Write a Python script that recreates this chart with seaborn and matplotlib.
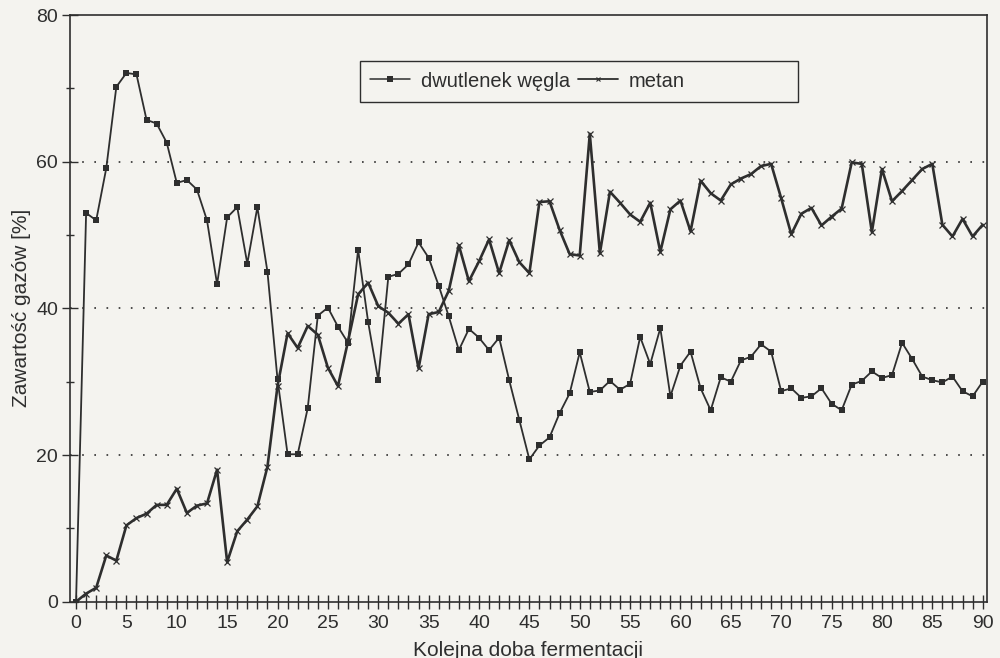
import numpy as np
import pandas as pd
import matplotlib
matplotlib.use("Agg")
import matplotlib.pyplot as plt
from matplotlib.ticker import MultipleLocator
from matplotlib.lines import Line2D
from matplotlib.patches import Rectangle
import seaborn as sns

# values (day 0..90)
days = list(range(91))
co2 = [0, 53.0, 52.0, 59.1, 70.2, 72.1, 71.9, 65.7, 65.2, 62.6,
       57.1, 57.5, 56.2, 52.0, 43.3, 52.4, 53.8, 46.1, 53.8, 45.0,
       30.3, 20.1, 20.1, 26.4, 39.0, 40.1, 37.5, 35.3, 48.0, 38.1, 30.2, 44.3,
       44.7, 46.0, 49.0, 46.9, 43.1, 38.9, 34.3, 37.2, 36.0, 34.3, 36.0,
       30.2, 24.8, 19.4, 21.3, 22.4, 25.7, 28.4, 34.0, 28.6, 28.8, 30.1,
       28.9, 29.7, 36.1, 32.4, 37.3, 28.0, 32.2, 34.1, 29.1, 26.1, 30.6, 30.0,
       32.9, 33.4, 35.1, 34.1, 28.7, 29.1, 27.8, 28.0, 29.1, 27.0, 26.1, 29.6,
       30.1, 31.4, 30.5, 30.9, 35.3, 33.1, 30.7, 30.2, 29.9, 30.7, 28.7, 28.0, 30.0]
ch4 = [0, 1.1, 1.9, 6.3, 5.6, 10.4, 11.4, 12.0, 13.2, 13.2,
       15.4, 12.1, 13.1, 13.4, 18.0, 5.4, 9.6, 11.2, 13.0, 18.4,
       29.4, 36.6, 34.6, 37.6, 36.4, 31.9, 29.4, 35.5, 41.9, 43.5, 40.3, 39.4,
       37.9, 39.2, 31.8, 39.2, 39.5, 42.4, 48.6, 43.7, 46.4, 49.4, 44.8,
       49.3, 46.3, 44.8, 54.5, 54.6, 50.7, 47.4, 47.2, 63.8, 47.5, 55.9,
       54.4, 52.8, 51.8, 54.4, 47.7, 53.5, 54.7, 50.5, 57.4, 55.7, 54.7, 56.9,
       57.7, 58.3, 59.4, 59.7, 55.0, 50.1, 52.9, 53.7, 51.3, 52.5, 53.6, 59.9,
       59.7, 50.4, 59.0, 54.6, 56.0, 57.5, 59.0, 59.7, 51.4, 49.8, 52.2, 49.8, 51.4]
labels = ["dwutlenek węgla", "metan"]

df = pd.DataFrame({"doba": days, "co2": co2, "ch4": ch4})

sns.set_theme(style="ticks")
plt.rcParams["font.family"] = ["Liberation Sans", "DejaVu Sans"]

bg = "#f4f3ef"
ink = "#2e2e2e"

fig = plt.figure(figsize=(10, 6.58), dpi=100, facecolor=bg)
ax = fig.add_axes([0.070, 0.0856, 0.9167, 0.8916])
ax.set_facecolor(bg)

# dotted grid at 20, 40, 60
for yv in [20, 40, 60]:
    ax.axhline(yv, color=ink, lw=1.2, ls=(0, (1, 6.3)), zorder=1)

sns.lineplot(data=df, x="doba", y="co2", ax=ax, color=ink, lw=1.3,
             marker="s", markersize=4.5, markeredgewidth=0, zorder=3)
sns.lineplot(data=df, x="doba", y="ch4", ax=ax, color=ink, lw=1.9,
             marker="x", markersize=4, markeredgewidth=0.9,
             markeredgecolor=ink, zorder=3)

ax.set_xlim(-0.6, 90.4)
ax.set_ylim(0, 80)
ax.xaxis.set_major_locator(MultipleLocator(5))
ax.xaxis.set_minor_locator(MultipleLocator(1))
ax.yaxis.set_major_locator(MultipleLocator(20))
ax.yaxis.set_minor_locator(MultipleLocator(10))

ax.tick_params(axis="x", which="both", direction="inout", length=9.5, width=1.0,
               color=ink, labelsize=14, labelcolor=ink, pad=5)
ax.tick_params(axis="y", which="major", direction="inout", length=11, width=1.0,
               color=ink, labelsize=14, labelcolor=ink, pad=3)
ax.tick_params(axis="y", which="minor", direction="inout", length=5.5, width=1.0,
               color=ink)

for s in ax.spines.values():
    s.set_color(ink)
    s.set_linewidth(1.2)

ax.set_xlabel("Kolejna doba fermentacji", fontsize=15, color=ink, labelpad=6)
ax.set_ylabel("Zawartość gazów [%]", fontsize=15, color=ink, labelpad=4)

# legend box is wider than its entries in the original
ax.add_patch(Rectangle((0.3164, 0.852), 0.4776, 0.070, transform=ax.transAxes,
                       facecolor=bg, edgecolor=ink, lw=1.0, zorder=4))
handles = [
    Line2D([], [], color=ink, lw=1.1, marker="s", markersize=4, markeredgewidth=0),
    Line2D([], [], color=ink, lw=1.3, marker="x", markersize=3.5,
           markeredgewidth=0.8, markeredgecolor=ink),
]
leg = ax.legend(handles, labels, loc="center left", bbox_to_anchor=(0.3273, 0.8875),
                ncol=2, fontsize=14.5, frameon=False,
                handlelength=2.0, columnspacing=0.4, handletextpad=0.53,
                borderpad=0, borderaxespad=0, labelcolor=ink)
leg.set_zorder(5)

fig.savefig("out.png", dpi=100, facecolor=bg)
